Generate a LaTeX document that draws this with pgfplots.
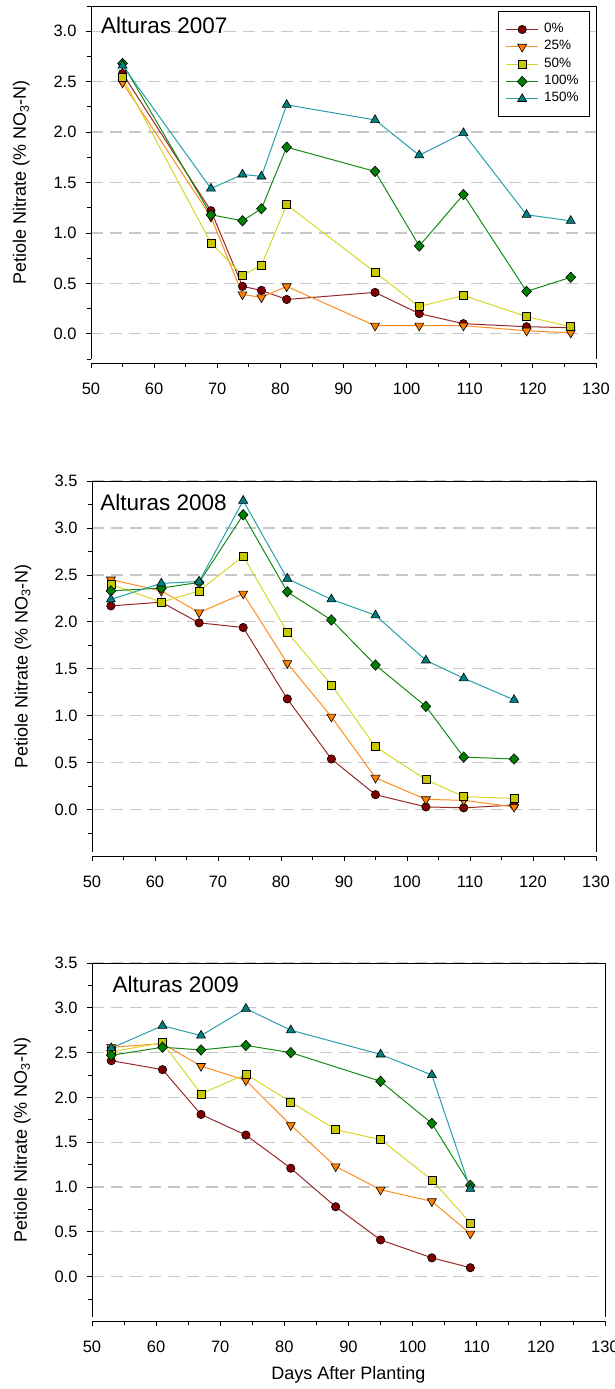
\documentclass[border=0pt]{standalone}
\usepackage{fontspec}
\setmainfont{Liberation Sans}
\usepackage{pgfplots}
\usepackage{pgfplotstable}
\pgfplotsset{compat=1.18}

\definecolor{f0}{RGB}{128,0,0}
\definecolor{l0}{RGB}{150,40,40}
\definecolor{f25}{RGB}{255,128,0}
\definecolor{l25}{RGB}{255,140,30}
\definecolor{f50}{RGB}{200,200,0}
\definecolor{l50}{RGB}{215,215,40}
\definecolor{f100}{RGB}{0,128,0}
\definecolor{l100}{RGB}{20,140,20}
\definecolor{f150}{RGB}{0,128,128}
\definecolor{l150}{RGB}{40,160,170}
\definecolor{gridgray}{RGB}{200,200,200}

\pgfplotstableread{
d   c0   c25  c50  c100 c150
55  2.58 2.49 2.54 2.68 2.66
69  1.22 1.16 0.90 1.18 1.44
74  0.47 0.39 0.58 1.12 1.58
77  0.43 0.36 0.68 1.24 1.56
81  0.34 0.47 1.28 1.85 2.27
95  0.41 0.08 0.61 1.61 2.12
102 0.20 0.08 0.27 0.87 1.77
109 0.10 0.08 0.38 1.38 1.99
119 0.07 0.03 0.17 0.42 1.18
126 0.06 0.01 0.07 0.56 1.12
}\tA

\pgfplotstableread{
d   c0   c25  c50  c100 c150
53  2.17 2.45 2.40 2.33 2.24
61  2.21 2.33 2.21 2.36 2.41
67  1.99 2.10 2.33 2.42 2.43
74  1.94 2.30 2.70 3.14 3.29
81  1.18 1.56 1.89 2.32 2.46
88  0.54 0.99 1.33 2.02 2.24
95  0.16 0.34 0.67 1.54 2.07
103 0.03 0.11 0.32 1.10 1.59
109 0.02 0.10 0.14 0.56 1.40
117 0.05 0.03 0.12 0.54 1.17
}\tB

\pgfplotstableread{
d   c0   c25  c50  c100 c150
53  2.41 2.56 2.51 2.47 2.55
61  2.31 2.60 2.61 2.56 2.80
67  1.81 2.35 2.04 2.53 2.69
74  1.58 2.19 2.26 2.58 2.99
81  1.21 1.69 1.95 2.50 2.75
88  0.78 1.23 1.64 nan  nan
95  0.41 0.97 1.53 2.18 2.48
103 0.21 0.84 1.08 1.71 2.25
109 0.10 0.48 0.60 1.02 0.98
}\tC

\pgfplotsset{
  s0/.style={color=l0, line width=1bp, mark=*, mark size=4.2bp,
    mark options={fill=f0, draw=black, line width=0.6bp}},
  s25/.style={color=l25, line width=1bp, mark=triangle*, mark size=5.2bp,
    mark options={fill=f25, draw=black, line width=0.6bp, rotate=180}},
  s50/.style={color=l50, line width=1bp, mark=square*, mark size=4bp,
    mark options={fill=f50, draw=black, line width=0.6bp}},
  s100/.style={color=l100, line width=1bp, mark=diamond*, mark size=5.2bp,
    mark options={fill=f100, draw=black, line width=0.6bp, xscale=1.25}},
  s150/.style={color=l150, line width=1bp, mark=triangle*, mark size=5.2bp,
    mark options={fill=f150, draw=black, line width=0.6bp}},
  ylab/.style={every axis y label/.style={at={(axis description cs:#1,0.5)}, rotate=90, anchor=center,
    font=\fontsize{18bp}{20bp}\selectfont}},
  panel/.style={
    scale only axis,
    xmin=50, xmax=130,
    xtick={50,60,...,130}, minor xtick={55,65,...,125},
    axis x line*=bottom, axis y line*=left,
    axis x line shift=4bp,
    xtick pos=left, ytick pos=left,
    tick align=outside,
    major tick length=5bp, minor tick length=4bp,
    tick style={black, line width=0.8bp},
    axis line style={-, line width=0.9bp, black},
    ymajorgrids,
    major grid style={gridgray, dash pattern=on 12bp off 7bp, line width=1.2bp},
    /pgf/number format/assume math mode=true,
    ticklabel style={font=\fontsize{16.5bp}{18bp}\selectfont},
    yticklabel style={/pgf/number format/fixed, /pgf/number format/fixed zerofill, /pgf/number format/precision=1, xshift=-6bp},
    xticklabel style={yshift=-11bp},
    ylabel={Petiole Nitrate (\% NO\textsubscript{3}-N)},
    after end axis/.code={\draw[line width=0.9bp, black] (rel axis cs:0,1) -- (rel axis cs:1,1) -- (rel axis cs:1,0);},
    legend image code/.code={\draw[mark repeat=2, mark phase=2, ##1] plot coordinates {(0bp,0bp) (16bp,0bp) (32bp,0bp)};},
  },
}

\begin{document}
\begin{tikzpicture}
\useasboundingbox (0bp,0bp) rectangle (615bp,1389bp);

% ---------- 2007 ----------
\begin{axis}[panel, at={(91bp,1030bp)}, anchor=south west, width=505bp, height=353bp,
  ymin=-0.25, ymax=3.25,
  ytick={0,0.5,...,3.0}, minor ytick={-0.25,0.25,...,3.25},
  ylab=-0.138,
  legend style={at={(axis description cs:0.988,0.985)}, anchor=north east,
    draw=black, line width=0.9bp, fill=white,
    font=\fontsize{13.5bp}{15bp}\selectfont,
    inner xsep=6.8bp, inner ysep=9.1bp, row sep=0bp,
    nodes={inner sep=2.5bp, text height=9.2bp, text depth=3.15bp}},
  legend cell align=left]
\addplot[s0]   table[x=d, y=c0]   {\tA}; \addlegendentry{\makebox[39bp][l]{\hspace*{3bp}0\%}}
\addplot[s25]  table[x=d, y=c25]  {\tA}; \addlegendentry{\makebox[39bp][l]{\hspace*{3bp}25\%}}
\addplot[s50]  table[x=d, y=c50]  {\tA}; \addlegendentry{\makebox[39bp][l]{\hspace*{3bp}50\%}}
\addplot[s100] table[x=d, y=c100] {\tA}; \addlegendentry{\makebox[39bp][l]{\hspace*{3bp}100\%}}
\addplot[s150] table[x=d, y=c150] {\tA}; \addlegendentry{\makebox[39bp][l]{\hspace*{3bp}150\%}}
\node[anchor=west, inner sep=0, font=\fontsize{22.5bp}{25bp}\selectfont] at (rel axis cs:0.0198,0.946) {Alturas 2007};
\end{axis}

% ---------- 2008 ----------
\begin{axis}[panel, at={(92bp,537bp)}, anchor=south west, width=504bp, height=371bp,
  ymin=-0.45, ymax=3.5,
  ytick={0,0.5,...,3.5}, minor ytick={-0.25,0.25,...,3.25},
  ylab=-0.137]
\addplot[s0]   table[x=d, y=c0]   {\tB};
\addplot[s25]  table[x=d, y=c25]  {\tB};
\addplot[s50]  table[x=d, y=c50]  {\tB};
\addplot[s100] table[x=d, y=c100] {\tB};
\addplot[s150] table[x=d, y=c150] {\tB};
\node[anchor=west, inner sep=0, font=\fontsize{22.5bp}{25bp}\selectfont] at (rel axis cs:0.016,0.943) {Alturas 2008};
\end{axis}

% ---------- 2009 ----------
\begin{axis}[panel, at={(92bp,72bp)}, anchor=south west, width=513bp, height=354bp,
  ymin=-0.45, ymax=3.5,
  ytick={0,0.5,...,3.5}, minor ytick={-0.25,0.25,...,3.25},
  ylab=-0.136,
  xlabel={Days After Planting},
  every axis x label/.style={at={(axis description cs:0.5,0)}, anchor=center, yshift=-58bp, font=\fontsize{18bp}{20bp}\selectfont}]
\addplot[s0]   table[x=d, y=c0]   {\tC};
\addplot[s25]  table[x=d, y=c25]  {\tC};
\addplot[s50]  table[x=d, y=c50]  {\tC};
\addplot[s100] table[x=d, y=c100] {\tC};
\addplot[s150] table[x=d, y=c150] {\tC};
\node[anchor=west, inner sep=0, font=\fontsize{22.5bp}{25bp}\selectfont] at (rel axis cs:0.040,0.939) {Alturas 2009};
\end{axis}
\end{tikzpicture}
\end{document}
